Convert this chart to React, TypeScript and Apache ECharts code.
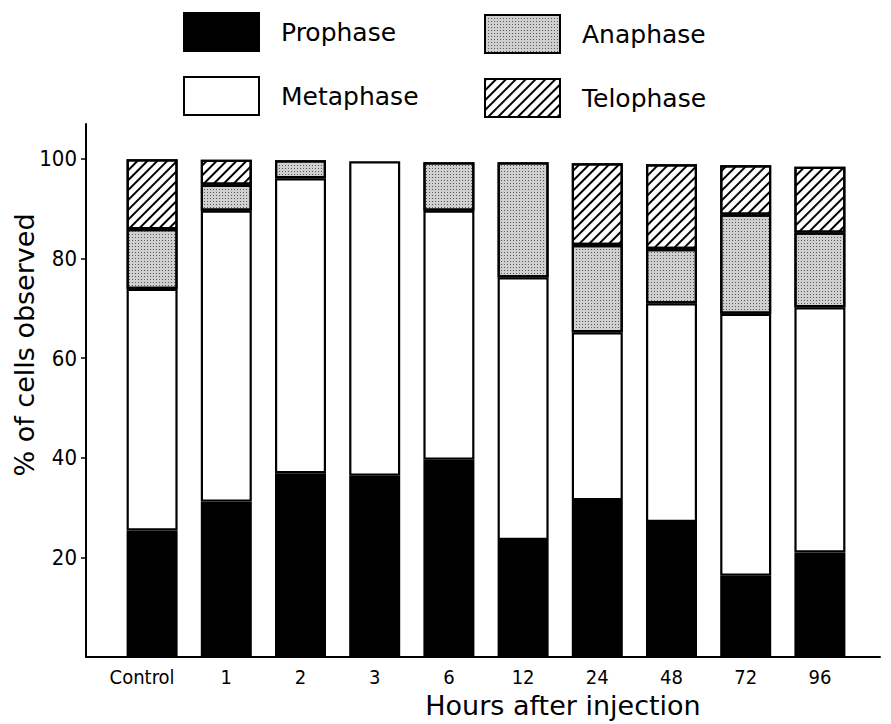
import React, { useEffect, useRef } from "react";
import * as echarts from "echarts";

const categories = ["Control", "1", "2", "3", "6", "12", "24", "48", "72", "96"];
const prophase = [25.4, 31.2, 36.9, 36.4, 39.6, 23.5, 31.5, 27.1, 16.3, 21.0];
const metaphase = [48.5, 58.4, 59.2, 63.1, 50.0, 52.7, 33.7, 43.9, 52.6, 49.2];
const anaphase = [12.0, 5.2, 3.6, null, 9.7, 23.1, 17.5, 10.9, 19.9, 15.0];
const telophase = [14.0, 5.0, null, null, null, null, 16.4, 17.0, 9.9, 13.2];
const yTicks = [20, 40, 60, 80, 100];

const FONT = "'DejaVu Sans Condensed', 'DejaVu Sans', sans-serif";
const FONT_WIDE = "'DejaVu Sans', sans-serif";

export default function App() {
  const ref = useRef<HTMLDivElement>(null);
  useEffect(() => {
    document.body.style.margin = "0";
    const chart = echarts.init(ref.current!, undefined, { renderer: "svg" });
    const border = { borderColor: "#000", borderWidth: 2.2 };
    const legendItem = (name: string, left: number, top: number) => ({
      data: [name],
      left,
      top,
      padding: 0,
      itemWidth: 75,
      itemHeight: 38,
      icon: "rect",
      selectedMode: false,
      itemStyle: { borderColor: "#000", borderWidth: 2 },
      textStyle: {
        fontFamily: FONT_WIDE,
        fontSize: 25,
        color: "#000",
        padding: [0, 0, 0, 17],
      },
    });
    chart.setOption({
      animation: false,
      backgroundColor: "#fff",
      legend: [
        legendItem("Prophase", 183, 12),
        legendItem("Anaphase", 484, 14),
        legendItem("Metaphase", 183, 76),
        legendItem("Telophase", 484, 78),
      ],
      grid: [
        { left: 115, right: 34, top: 124, bottom: 67, outerBoundsMode: "none", containLabel: false },
        { left: 86, right: 11, top: 124, bottom: 67, outerBoundsMode: "none", containLabel: false },
      ],
      xAxis: [
        {
          type: "category",
          gridIndex: 0,
          data: categories,
          axisLine: { show: false, onZero: false },
          axisTick: { show: false },
          axisLabel: {
            interval: 0,
            color: "#000",
            fontFamily: FONT,
            fontSize: 20,
            lineHeight: 20,
            margin: 10,
            formatter: (v: string) => (v === "Control" ? "{ctl|Control}" : v),
            rich: {
              ctl: {
                padding: [0, 20, 0, 0],
                fontFamily: FONT,
                fontSize: 20,
                lineHeight: 20,
                color: "#000",
              },
            },
          },
        },
        {
          type: "value",
          gridIndex: 1,
          min: 0,
          max: 1,
          splitLine: { show: false },
          axisLine: { show: true, onZero: false, lineStyle: { color: "#000", width: 2 } },
          axisTick: { show: false },
          axisLabel: { show: false },
          name: "Hours after injection",
          nameLocation: "middle",
          nameGap: 35,
          nameMoveOverlap: false,
          nameTextStyle: {
            fontFamily: FONT_WIDE,
            fontSize: 27,
            lineHeight: 27,
            color: "#000",
            padding: [0, 0, 0, 160],
          },
        },
      ],
      yAxis: [
        {
          type: "value",
          gridIndex: 0,
          min: 0,
          max: 107,
          show: false,
        },
        {
          type: "value",
          gridIndex: 1,
          min: 0,
          max: 107,
          splitLine: { show: false },
          axisLine: { show: true, onZero: false, lineStyle: { color: "#000", width: 2 } },
          axisTick: {
            show: true,
            customValues: yTicks,
            length: 5,
            lineStyle: { color: "#000", width: 1.5 },
          },
          axisLabel: {
            customValues: yTicks,
            color: "#000",
            fontFamily: FONT,
            fontSize: 22,
            margin: 9,
          },
          name: "% of cells observed",
          nameLocation: "middle",
          nameGap: 48,
          nameMoveOverlap: false,
          nameTextStyle: {
            fontFamily: FONT_WIDE,
            fontSize: 27,
            lineHeight: 28,
            color: "#000",
            padding: [0, 0, 0, 91],
          },
        },
      ],
      series: [
        {
          name: "Prophase",
          type: "bar",
          stack: "total",
          barWidth: 51,
          data: prophase,
          itemStyle: { color: "#000", ...border },
        },
        {
          name: "Metaphase",
          type: "bar",
          stack: "total",
          barWidth: 51,
          data: metaphase,
          itemStyle: { color: "#fff", ...border },
        },
        {
          name: "Anaphase",
          type: "bar",
          stack: "total",
          barWidth: 51,
          data: anaphase,
          itemStyle: {
            color: "#cfcfcf",
            ...border,
            decal: {
              symbol: "rect",
              symbolSize: 1,
              color: "#5a5a5a",
              dashArrayX: [1, 2],
              dashArrayY: [1, 2],
              rotation: 0,
            },
          },
        },
        {
          name: "Telophase",
          type: "bar",
          stack: "total",
          barWidth: 51,
          data: telophase,
          itemStyle: {
            color: "#fff",
            ...border,
            decal: {
              symbol: "rect",
              symbolSize: 1,
              color: "#000",
              dashArrayX: [1, 0],
              dashArrayY: [1.8, 4.2],
              rotation: -Math.PI / 4,
            },
          },
        },
      ],
    });
    return () => chart.dispose();
  }, []);
  return <div ref={ref} style={{ width: 891, height: 724 }} />;
}
